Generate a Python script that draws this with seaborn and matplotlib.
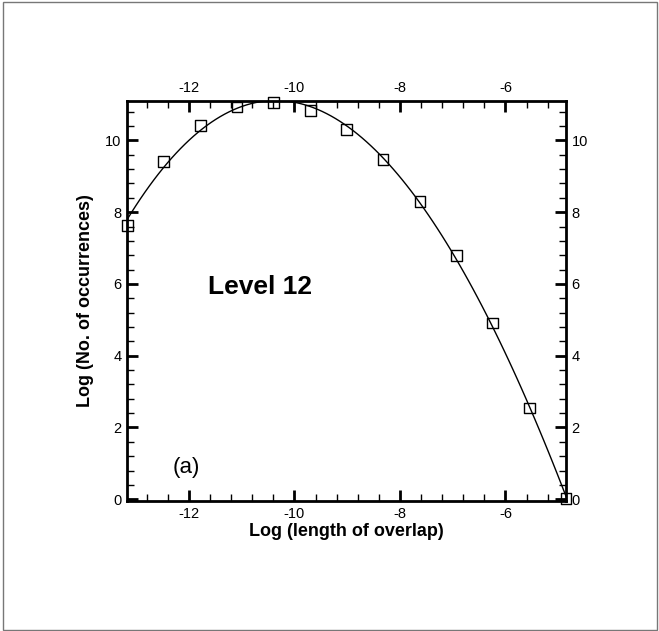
import numpy as np
import pandas as pd
import seaborn as sns
import matplotlib.pyplot as plt
from matplotlib.ticker import MultipleLocator
from matplotlib.patches import Rectangle

# valores (Level 12)
log_overlap = [-13.17, -12.48, -11.78, -11.09, -10.40, -9.70, -9.01,
               -8.32, -7.62, -6.93, -6.24, -5.55, -4.85]
log_occurrences = [7.63, 9.41, 10.42, 10.93, 11.05, 10.84, 10.30,
                   9.46, 8.30, 6.79, 4.91, 2.54, 0.03]

df = pd.DataFrame({'overlap': log_overlap, 'occ': log_occurrences})

sns.set_style('ticks')
plt.rcParams['font.family'] = ['Liberation Sans', 'DejaVu Sans']
plt.rcParams['axes.unicode_minus'] = False
plt.rcParams['text.color'] = 'black'
plt.rcParams['axes.labelcolor'] = 'black'

fig = plt.figure(figsize=(6.59, 6.31), dpi=100)
ax = fig.add_axes([0.193, 0.206, 0.666, 0.634])

# curva ajustada + pontos
sns.regplot(data=df, x='overlap', y='occ', order=3, ci=None, scatter=False,
            line_kws={'color': 'black', 'linewidth': 1.0}, ax=ax)
sns.scatterplot(data=df, x='overlap', y='occ', marker='s', s=60,
                facecolor='none', edgecolor='black', linewidth=1.0,
                clip_on=False, zorder=5, ax=ax)

ax.set_xlim(-13.17, -4.85)
ax.set_ylim(-0.05, 11.1)
ax.set_xticks([-12, -10, -8, -6])
ax.set_yticks([0, 2, 4, 6, 8, 10])
ax.xaxis.set_minor_locator(MultipleLocator(0.4))
ax.yaxis.set_minor_locator(MultipleLocator(0.4))

ax.tick_params(which='both', direction='in', top=True, right=True,
               labeltop=True, labelright=True, labelsize=10.5, pad=4,
               colors='black')
ax.tick_params(which='major', length=8, width=2)
ax.tick_params(which='minor', length=5, width=1)
for s in ax.spines.values():
    s.set_linewidth(2)
    s.set_color('black')

ax.set_xlabel('Log (length of overlap)', fontsize=13, fontweight='bold',
              labelpad=2, color='black')
ax.set_ylabel('Log (No. of occurrences)', fontsize=13, fontweight='bold',
              labelpad=8, color='black')

ax.text(-11.63, 5.72, 'Level 12', fontsize=19, fontweight='bold',
        ha='left', va='baseline', color='black')
ax.text(-12.30, 0.72, '(a)', fontsize=16, ha='left', va='baseline', color='black')

fig.add_artist(Rectangle((0.004, 0.002), 0.993, 0.995, transform=fig.transFigure,
                         fill=False, edgecolor='#777777', linewidth=1))

plt.savefig('out.png', dpi=100)
